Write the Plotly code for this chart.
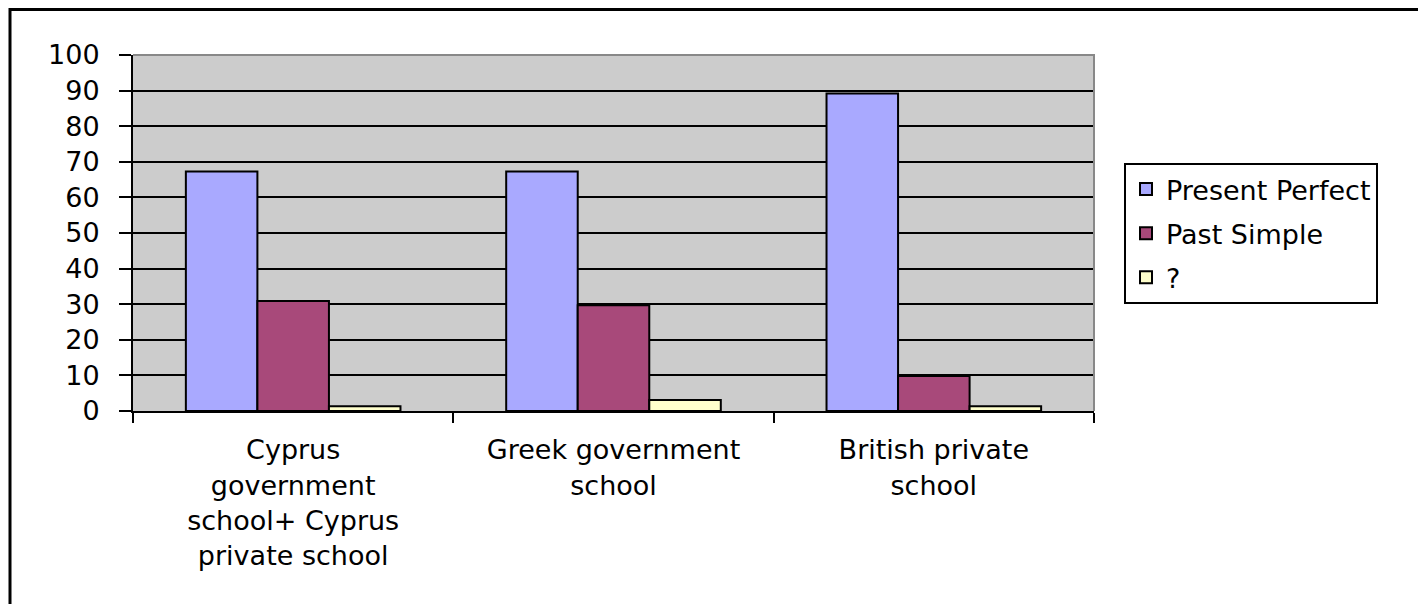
import plotly.graph_objects as go

categories = ["Cyprus<br>government<br>school+ Cyprus<br>private school",
              "Greek government<br>school",
              "British private<br>school"]
present_perfect = [67.3, 67.3, 89.2]
past_simple = [30.9, 29.7, 9.8]
unknown = [1.3, 3.1, 1.3]

series = [("Present Perfect", present_perfect, "#A9A9FF"),
          ("Past Simple", past_simple, "#A8497A"),
          ("?", unknown, "#FFFFCC")]

FONT = "DejaVu Sans"
FS = 27
fig = go.Figure()
for name, vals, col in series:
    fig.add_trace(go.Bar(x=categories, y=vals, name=name, legendgroup=name,
                         marker=dict(color=col, line=dict(color="black", width=2))))

# page body has an 8px margin, so the figure is placed at (8, 8)
W, H = 1418, 596
L, T, PW, PH = 125, 47, 961, 356
fig.update_layout(
    width=W, height=H,
    margin=dict(l=L, r=W - L - PW, t=T, b=H - T - PH),
    paper_bgcolor="white", plot_bgcolor="#CCCCCC",
    barmode="group", bargap=0.33, bargroupgap=0,
    font=dict(family=FONT, size=FS, color="black"),
    showlegend=True,
    legend=dict(x=(1124 - 133) / PW, y=(411 - 163) / PH, xanchor="left", yanchor="top",
                bordercolor="black", borderwidth=2, bgcolor="white",
                font=dict(family=FONT, size=FS), tracegroupgap=6,
                entrywidth=320, entrywidthmode="pixels"),
    xaxis=dict(showline=True, linecolor="black", linewidth=2,
               ticks="outside", tickson="boundaries", ticklen=10,
               tickwidth=2, tickcolor="black", showgrid=False,
               ticklabelstandoff=14,
               tickfont=dict(family=FONT, size=FS)),
    yaxis=dict(range=[0, 100], dtick=10, showline=True, linecolor="black",
               linewidth=2, ticks="outside", ticklen=12, tickwidth=2,
               tickcolor="black", showgrid=True, gridcolor="black",
               gridwidth=2, zeroline=False, ticklabelstandoff=14,
               tickfont=dict(family=FONT, size=FS)),
    shapes=[
        dict(type="path", xref="paper", yref="paper",
             path="M 0,1 L 1,1 L 1,0", line=dict(color="#888888", width=2),
             layer="above"),
        dict(type="rect", xref="paper", yref="paper",
             x0=(2 - L) / PW, x1=(W + 20 - L) / PW,
             y0=(T + PH - H - 20) / PH, y1=(T + PH - 1.5) / PH,
             line=dict(color="black", width=3), layer="below"),
    ],
)

fig.write_html("out.html")
